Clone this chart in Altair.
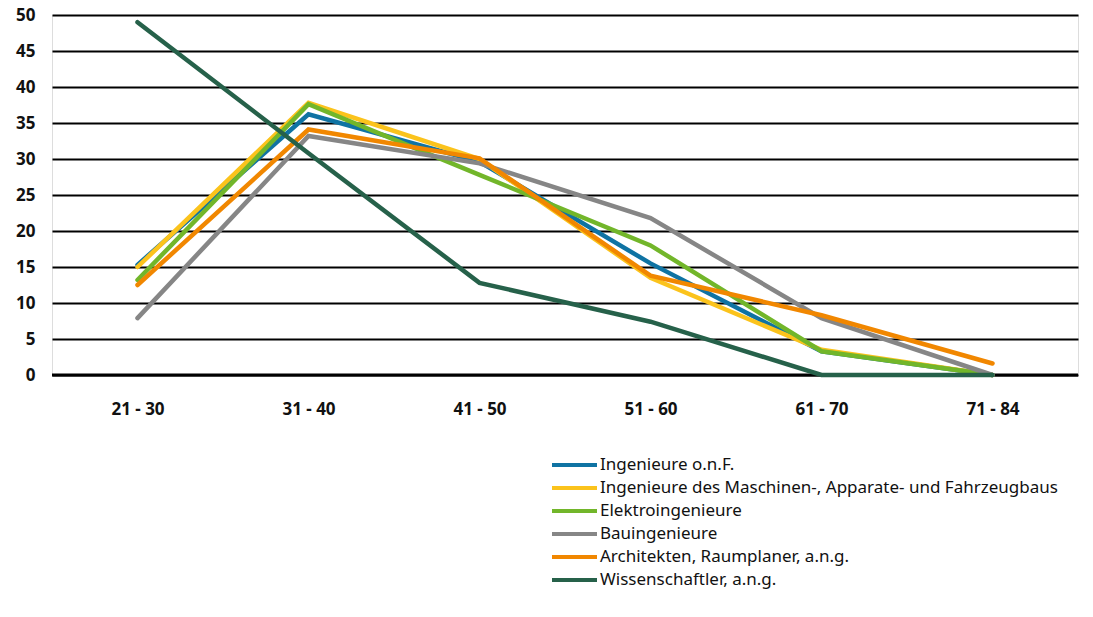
import altair as alt
import pandas as pd

# Age groups on the x axis
age_groups = ["21 - 30", "31 - 40", "41 - 50", "51 - 60", "61 - 70", "71 - 84"]

# Share (%) per age group for each occupation
series_names = [
    "Ingenieure o.n.F.",
    "Ingenieure des Maschinen-, Apparate- und Fahrzeugbaus",
    "Elektroingenieure",
    "Bauingenieure",
    "Architekten, Raumplaner, a.n.g.",
    "Wissenschaftler, a.n.g.",
]
ingenieure_onf = [15.3, 36.2, 29.6, 15.5, 3.3, 0.0]
maschinenbau = [15.0, 37.8, 30.0, 13.5, 3.5, 0.0]
elektro = [13.2, 37.6, 27.8, 18.0, 3.3, 0.0]
bau = [7.9, 33.2, 29.4, 21.8, 7.9, 0.0]
architekten = [12.5, 34.1, 30.1, 13.8, 8.3, 1.6]
wissenschaftler = [49.0, 30.8, 12.8, 7.4, 0.0, 0.0]

series_colors = ["#0f73a3", "#fbc31c", "#72b62a", "#868686", "#f18700", "#26614a"]

y_ticks = list(range(0, 55, 5))

all_values = [ingenieure_onf, maschinenbau, elektro, bau, architekten, wissenschaftler]
rows = []
for i, (name, vals) in enumerate(zip(series_names, all_values)):
    for age, v in zip(age_groups, vals):
        rows.append({"Beruf": name, "Alter": age, "Anteil": v, "order": i})
df = pd.DataFrame(rows)

y_axis = alt.Axis(
    title=None,
    values=y_ticks,
    labelOverlap=False,
    labelFont="Noto Sans",
    labelFontSize=17,
    labelFontWeight="bold",
    labelColor="#111111",
    labelPadding=17,
    ticks=False,
    domain=False,
    grid=True,
    gridColor="#000000",
    gridWidth=2,
    gridOpacity=1,
)

lines = (
    alt.Chart(df)
    .mark_line(strokeWidth=4.5, strokeCap="round", strokeJoin="miter")
    .encode(
        x=alt.X(
            "Alter:N",
            sort=age_groups,
            scale=alt.Scale(paddingInner=0, paddingOuter=0),
            axis=alt.Axis(
                title=None,
                labelAngle=0,
                labelFont="Noto Sans",
                labelFontSize=17,
                labelFontWeight="bold",
                labelColor="#111111",
                labelPadding=26,
                ticks=False,
                domain=False,
                grid=False,
            ),
        ),
        y=alt.Y("Anteil:Q", scale=alt.Scale(domain=[0, 50], nice=False), axis=y_axis),
        color=alt.Color(
            "Beruf:N",
            sort=series_names,
            scale=alt.Scale(domain=series_names, range=series_colors),
            legend=alt.Legend(
                title=None,
                orient="none",
                legendX=498,
                legendY=440,
                symbolType="stroke",
                symbolSize=2025,
                symbolStrokeWidth=4,
                clipHeight=20,
                labelFont="Noto Sans",
                labelFontSize=17,
                labelColor="#111111",
                labelOffset=1,
                rowPadding=3,
                labelLimit=600,
            ),
        ),
        order=alt.Order("order:Q"),
    )
)

# Heavier baseline at zero, drawn beneath the series lines
zero_line = (
    alt.Chart(pd.DataFrame({"y": [0]}))
    .mark_rule(color="#000000", strokeWidth=3)
    .encode(y=alt.Y("y:Q", scale=alt.Scale(domain=[0, 50], nice=False), axis=y_axis))
)

final = (
    alt.layer(zero_line, lines)
    .properties(
        width=1026,
        height=360,
        autosize=alt.AutoSizeParams(type="none"),
        padding={"left": 52, "top": 15, "right": 15, "bottom": 242},
    )
    .configure_view(stroke="transparent", strokeWidth=0, strokeOpacity=0)
    .configure(background="#ffffff")
)

final.save("out.html", embed_options={"renderer": "svg", "actions": False})
